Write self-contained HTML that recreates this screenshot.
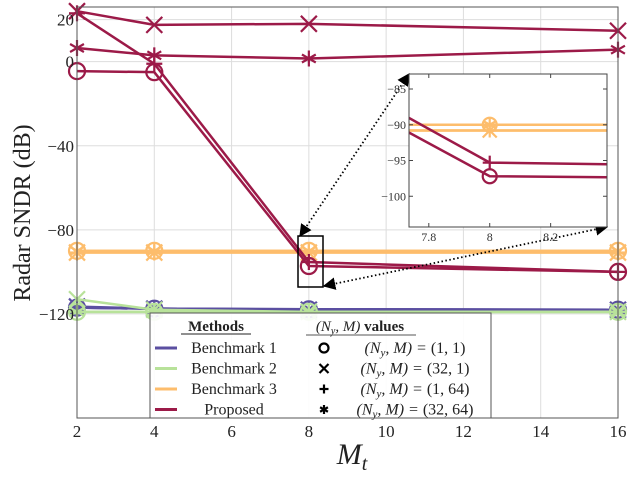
<!DOCTYPE html>
<html><head><meta charset="utf-8"><style>
body{margin:0;background:#fff}
svg text{font-family:"Liberation Serif",serif}
</style></head><body>
<svg id="c" width="628" height="472" xmlns="http://www.w3.org/2000/svg"></svg>
<script>
const xVals=[2,4,8,16];
const xTicks=[2,4,6,8,10,12,14,16];
const yTicks=[20,0,-40,-80,-120];
const yTickLabels=["20","0","\u221240","\u221280","\u2212120"];
const insetXTicks=[7.8,8,8.2];
const insetXLabels=["7.8","8","8.2"];
const insetYTicks=[-85,-90,-95,-100];
const insetYLabels=["\u221285","\u221290","\u221295","\u2212100"];
const methods=["Benchmark 1","Benchmark 2","Benchmark 3","Proposed"];
const colors=["#5b4fa1","#b8e29a","#fdbd6c","#9c1a48"];
const markersList=["o","x","+","*"];
const b1=[[-117,-117.5,-117.8,-118],[-116.5,-117.5,-118,-118],[-117,-117.5,-117.8,-118],[-117,-117.5,-117.8,-118]];
const b2=[[-119,-119,-119,-119],[-113,-118,-119,-119],[-119,-119,-119,-119],[-119,-119,-119,-119]];
const b3=[[-90,-90,-90,-90],[-90.8,-90.8,-90.8,-90.8],[-90.8,-90.8,-90.8,-90.8],[-90,-90,-90,-90]];
const prop=[[-4.5,-5,-97.2,-100],[24,17.5,18,14.7],[23,-1,-95.3,-100],[6.5,3,1.5,5.7]];
const allSeries=[b1,b2,b3,prop];

const NS="http://www.w3.org/2000/svg";
const svg=document.getElementById('c');
function el(t,a,p){const e=document.createElementNS(NS,t);for(const k in a)e.setAttribute(k,a[k]);(p||svg).appendChild(e);return e;}
const L=77,R=618,T=7,B=418,Y0=26,Y1=-169.5;
const sx=v=>L+(v-2)/(14)*(R-L);
const sy=v=>T+(Y0-v)/(Y0-Y1)*(B-T);
const IL=409,IR=607,IT=74,IB=227,IX0=7.735,IX1=8.385,IY0=-82.9,IY1=-104.3;
const ix=v=>IL+(v-IX0)/(IX1-IX0)*(IR-IL);
const iy=v=>IT+(IY0-v)/(IY0-IY1)*(IB-IT);

function marker(g,m,x,y,c,r){
  const s={stroke:c,'stroke-width':2.2,fill:'none'};
  if(m==="o")el('circle',Object.assign({cx:x,cy:y,r:r},s),g);
  if(m==="x"){el('line',Object.assign({x1:x-r,y1:y-r,x2:x+r,y2:y+r},s),g);el('line',Object.assign({x1:x-r,y1:y+r,x2:x+r,y2:y-r},s),g);}
  if(m==="+"){el('line',Object.assign({x1:x-r,y1:y,x2:x+r,y2:y},s),g);el('line',Object.assign({x1:x,y1:y-r,x2:x,y2:y+r},s),g);}
  if(m==="*"){for(let a=0;a<3;a++){const t=a*Math.PI/3+Math.PI/2;el('line',Object.assign({x1:x-r*Math.cos(t),y1:y-r*Math.sin(t),x2:x+r*Math.cos(t),y2:y+r*Math.sin(t)},s),g);}}
}
const defs=el('defs',{});
defs.innerHTML='<marker id="ah" viewBox="0 0 10 10" refX="9" refY="5" markerWidth="7" markerHeight="7" orient="auto-start-reverse"><path d="M0,0L10,5L0,10z" fill="#000"/></marker><clipPath id="iclip"><rect x="409" y="74" width="198" height="153"/></clipPath><clipPath id="mainclip"><rect x="65" y="-1" width="565" height="419"/></clipPath>';
// grid
const grid=el('g',{});

xTicks.forEach(t=>el('line',{x1:sx(t),x2:sx(t),y1:T,y2:B,stroke:'#ddd','stroke-width':1},grid));
yTicks.forEach(t=>el('line',{x1:L,x2:R,y1:sy(t),y2:sy(t),stroke:'#ddd','stroke-width':1},grid));
// series
const sg=el('g',{'clip-path':'url(#mainclip)'});
allSeries.forEach((ser,mi)=>{ser.forEach((vals,k)=>{
  const g=el('g',{},sg);
  
  
  el('polyline',{points:vals.map((v,i)=>sx(xVals[i])+','+sy(v)).join(' '),fill:'none',stroke:colors[mi],'stroke-width':2.5},g);
  vals.forEach((v,i)=>marker(g,markersList[k],sx(xVals[i]),sy(v),colors[mi],8));
});});
// axes box
const ax=el('rect',{x:L,y:T,width:R-L,height:B-T,fill:'none',stroke:'#555','stroke-width':1});

xTicks.forEach(t=>{const tx=el('text',{x:sx(t),y:B+19,'text-anchor':'middle','font-size':17,fill:'#222'});tx.textContent=t;
});
yTicks.forEach((t,i)=>{const tx=el('text',{x:L-3,y:sy(t)+6,'text-anchor':'end','font-size':17,fill:'#222'});tx.textContent=yTickLabels[i];
});
let t=el('text',{x:0,y:0,transform:'translate(30,213) rotate(-90)','text-anchor':'middle','font-size':24,fill:'#222'});t.textContent='Radar SNDR (dB)';

t=el('text',{x:352,y:464,'text-anchor':'middle','font-size':30,'font-style':'italic',fill:'#222'});t.innerHTML='M<tspan font-size="20" dy="6" font-style="italic">t</tspan>';

// zoom box
const zb=el('rect',{x:298,y:236,width:25,height:51,fill:'none',stroke:'#000','stroke-width':1.5});

const a1=el('line',{x1:300,y1:236,x2:409,y2:74,stroke:'#000','stroke-width':1.8,'stroke-dasharray':'1.5,2.5','marker-start':'url(#ah)','marker-end':'url(#ah)'});

const a2=el('line',{x1:324,y1:286,x2:607,y2:227,stroke:'#000','stroke-width':1.8,'stroke-dasharray':'1.5,2.5','marker-start':'url(#ah)','marker-end':'url(#ah)'});

// inset
const ins=el('g',{});

el('rect',{x:IL,y:IT,width:IR-IL,height:IB-IT,fill:'#fff'},ins);
const ig=el('g',{'clip-path':'url(#iclip)'},ins);
[2,3].forEach(mi=>{allSeries[mi].forEach((vals,k)=>{
  el('polyline',{points:vals.map((v,i)=>ix(xVals[i])+','+iy(v)).join(' '),fill:'none',stroke:colors[mi],'stroke-width':2.5},ig);
  vals.forEach((v,i)=>marker(ig,markersList[k],ix(xVals[i]),iy(v),colors[mi],7));
});});
el('rect',{x:IL,y:IT,width:IR-IL,height:IB-IT,fill:'none',stroke:'#444','stroke-width':1},ins);
insetXTicks.forEach((v,i)=>{el('line',{x1:ix(v),x2:ix(v),y1:IB,y2:IB-4,stroke:'#444'},ins);el('line',{x1:ix(v),x2:ix(v),y1:IT,y2:IT+4,stroke:'#444'},ins);
 const tx=el('text',{x:ix(v),y:IB+14,'text-anchor':'middle','font-size':12,fill:'#333'},ins);tx.textContent=insetXLabels[i];});
insetYTicks.forEach((v,i)=>{el('line',{x1:IL,x2:IL+4,y1:iy(v),y2:iy(v),stroke:'#444'},ins);el('line',{x1:IR,x2:IR-4,y1:iy(v),y2:iy(v),stroke:'#444'},ins);
 const tx=el('text',{x:IL-3,y:iy(v)+4,'text-anchor':'end','font-size':12,fill:'#333'},ins);tx.textContent=insetYLabels[i];});
// legend
const lg=el('g',{});

el('rect',{x:150,y:313,width:341,height:105,fill:'#fff','fill-opacity':0.9,stroke:'#555','stroke-width':1},lg);
t=el('text',{x:216,y:331,'text-anchor':'middle','font-size':15,'font-weight':'bold',fill:'#222'},lg);t.textContent='Methods';
el('line',{x1:181,x2:251,y1:334,y2:334,stroke:'#222'},lg);
t=el('text',{x:360,y:331,'text-anchor':'middle','font-size':15,fill:'#222'},lg);t.innerHTML='<tspan font-style="italic">(N<tspan font-size="10" dy="3">y</tspan><tspan dy="-3">, M)</tspan></tspan> <tspan font-weight="bold">values</tspan>';
el('line',{x1:306,x2:416,y1:335,y2:335,stroke:'#555'},lg);
const mlabels=["(1, 1)","(32, 1)","(1, 64)","(32, 64)"];
methods.forEach((m,i)=>{const y=348+i*20.5;
 const e=el('g',{},lg);
 el('line',{x1:155,x2:177,y1:y,y2:y,stroke:colors[i],'stroke-width':3},e);
 const tx=el('text',{x:234,y:y+5,'text-anchor':'middle','font-size':16,fill:'#222'},e);tx.textContent=m;
 marker(e,markersList[i],324,y,'#000',4.5);
 const t2=el('text',{x:415,y:y+5,'text-anchor':'middle','font-size':16,fill:'#222','font-style':'italic'},e);
 t2.innerHTML='(N<tspan font-size="11" dy="3">y</tspan><tspan dy="-3">, M) = </tspan><tspan font-style="normal">'+mlabels[i]+'</tspan>';
});
</script>
</body></html>
